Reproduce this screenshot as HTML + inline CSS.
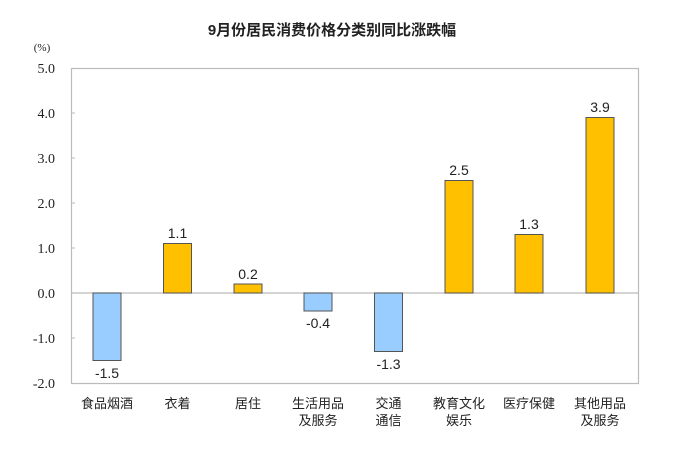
<!DOCTYPE html>
<html><head><meta charset="utf-8"><style>
body{margin:0;background:#fff;}
svg{display:block}
</style></head><body>
<svg width="689" height="457" xmlns="http://www.w3.org/2000/svg">
<text x="332" y="35" text-anchor="middle" font-family="Liberation Sans,'Noto Sans CJK SC',sans-serif" font-size="15" font-weight="bold" fill="#222">9月份居民消费价格分类别同比涨跌幅</text>
<text x="42" y="51" text-anchor="middle" font-family="Liberation Serif,serif" font-size="11" fill="#222">(%)</text>
<rect x="71.5" y="68.5" width="567" height="315" fill="none" stroke="#bbb" stroke-width="1.2"/>
<line x1="71.5" y1="293" x2="638.5" y2="293" stroke="#bbb" stroke-width="1.2"/>
<g stroke="#bbb"><line x1="71" x2="75" y1="113" y2="113"/><line x1="71" x2="75" y1="158" y2="158"/><line x1="71" x2="75" y1="203" y2="203"/><line x1="71" x2="75" y1="248" y2="248"/><line x1="71" x2="75" y1="338" y2="338"/></g>
<g font-family="Liberation Serif,serif" font-size="14" fill="#222" text-anchor="end">
<text x="55" y="73">5.0</text><text x="55" y="118">4.0</text><text x="55" y="163">3.0</text><text x="55" y="208">2.0</text><text x="55" y="253">1.0</text><text x="55" y="298">0.0</text><text x="55" y="343">-1.0</text><text x="55" y="388">-2.0</text>
</g>
<g stroke="#555" stroke-width="1">
<rect x="93" y="293" width="28" height="67.5" fill="#99ccff"/>
<rect x="163.5" y="243.5" width="28" height="49.5" fill="#ffc000"/>
<rect x="234" y="284" width="28" height="9" fill="#ffc000"/>
<rect x="304" y="293" width="28" height="18" fill="#99ccff"/>
<rect x="374.5" y="293" width="28" height="58.5" fill="#99ccff"/>
<rect x="445" y="180.5" width="28" height="112.5" fill="#ffc000"/>
<rect x="515" y="234.5" width="28" height="58.5" fill="#ffc000"/>
<rect x="586" y="117.5" width="28" height="175.5" fill="#ffc000"/>
</g>
<g font-family="Liberation Sans,sans-serif" font-size="14" fill="#222" text-anchor="middle">
<text x="107" y="378">-1.5</text><text x="177.5" y="238">1.1</text><text x="248" y="279">0.2</text><text x="318" y="328">-0.4</text><text x="388.5" y="369">-1.3</text><text x="459" y="175">2.5</text><text x="529" y="229">1.3</text><text x="600" y="112">3.9</text>
</g>
<g font-family="Liberation Sans,'Noto Sans CJK SC',sans-serif" font-size="13" fill="#222" text-anchor="middle">
<text x="107" y="408">食品烟酒</text><text x="177.5" y="408">衣着</text><text x="248" y="408">居住</text>
<text x="318" y="408">生活用品</text><text x="318" y="425">及服务</text>
<text x="388.5" y="408">交通</text><text x="388.5" y="425">通信</text>
<text x="459" y="408">教育文化</text><text x="459" y="425">娱乐</text>
<text x="529" y="408">医疗保健</text>
<text x="600" y="408">其他用品</text><text x="600" y="425">及服务</text>
</g>
</svg>
</body></html>
